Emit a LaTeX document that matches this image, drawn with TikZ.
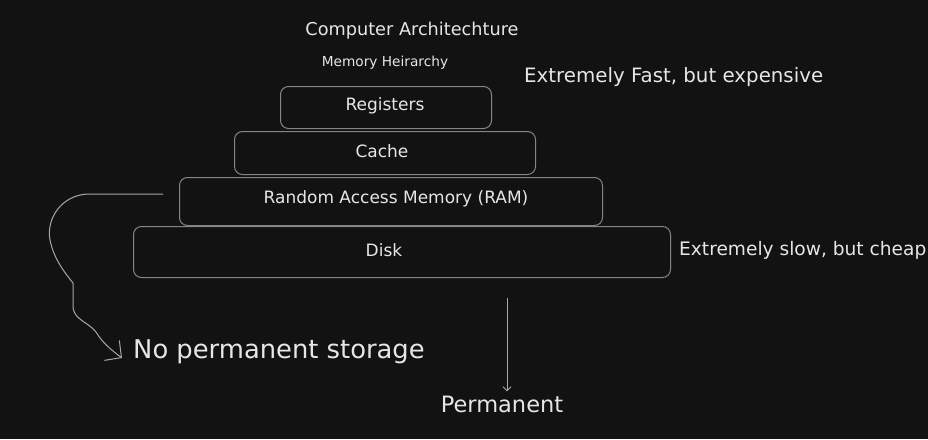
\documentclass[tikz,border=0pt]{standalone}
\usepackage{fontspec}
\setmainfont{DejaVu Sans}
\usetikzlibrary{arrows.meta}
\definecolor{bg}{HTML}{121212}
\definecolor{ink}{HTML}{E6E6E6}
\definecolor{boxline}{HTML}{858585}
\definecolor{wire}{HTML}{A8A8A8}
\begin{document}
\begin{tikzpicture}[x=1pt,y=-1pt,
  tier/.style={draw=boxline,line width=1pt,rounded corners=8pt,text=ink,anchor=north west,inner sep=0pt},
  label/.style={text=ink,inner sep=0pt},
  tiertext/.style={label,font=\fontsize{17}{20}\selectfont},
  wireline/.style={draw=wire,line width=1pt}]
\fill[bg] (0,0) rectangle (928,439);
\useasboundingbox (0,0) rectangle (928,439);
% title texts
\node[label,font=\fontsize{17.7}{20}\selectfont] (title) at (412,31) {Computer Architechture};
\node[label,font=\fontsize{13.7}{16}\selectfont] (sub) at (385,63) {Memory Heirarchy};
% tiers
\node[tier,minimum width=211pt,minimum height=42pt] (reg) at (280,86) {};
\node[tiertext] (regt) at (385,106) {Registers};
\node[tier,minimum width=301pt,minimum height=43pt] (cache) at (234,131) {};
\node[tiertext] (cachet) at (382,151) {Cache};
\node[tier,minimum width=423pt,minimum height=48pt] (ram) at (179,177) {};
\node[tiertext] (ramt) at (396,199) {Random Access Memory (RAM)};
\node[tier,minimum width=537pt,minimum height=51pt] (disk) at (133,226) {};
\node[tiertext] (diskt) at (384,250) {Disk};
% side notes
\node[label,anchor=west,font=\fontsize{19.8}{23}\selectfont] (fast) at (524,77) {Extremely Fast, but expensive};
\node[label,anchor=west,font=\fontsize{18.6}{22}\selectfont] (slow) at (679,250) {Extremely slow, but cheap};
\node[label,anchor=west,font=\fontsize{25.8}{30}\selectfont] (noperm) at (133,352) {No permanent storage};
\node[label,font=\fontsize{22.5}{27}\selectfont] (perm) at (502,404) {Permanent};
% connectors
\coordinate (ramtap) at (163,194);
\coordinate (tip) at (122,358);
\draw[wireline,-{Straight Barb[length=12pt,width=25pt]}] (ramtap) -- (88,194)
  .. controls (62,195) and (46,218) .. (50,240)
  .. controls (54,260) and (66,274) .. (73,283)
  -- (73,308)
  .. controls (75,320) and (88,322) .. (96,332)
  .. controls (102,342) and (110,349) .. (tip);
\coordinate (disktap) at (507,298);
\draw[wireline,shorten >=4pt,-{Straight Barb[length=4pt,width=8pt]}] (disktap) -- (disktap |- perm.north);
\end{tikzpicture}
\end{document}
